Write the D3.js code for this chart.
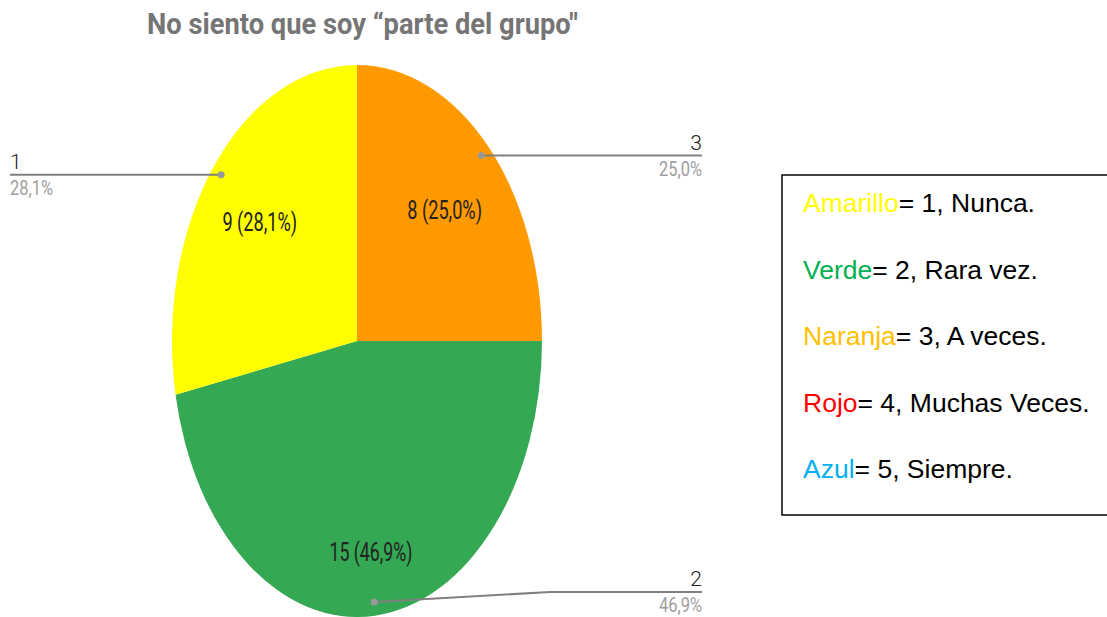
<!DOCTYPE html>
<html>
<head>
<meta charset="utf-8">
<script src="https://cdn.jsdelivr.net/npm/d3@7"></script>
<style>
  body { margin: 0; background: #fff; }
  svg { display: block; }
</style>
</head>
<body>
<div id="chart"></div>
<script>
// slices in drawing order (clockwise from 12 o'clock)
const categories = ["3", "2", "1"];
const counts = [8, 15, 9];
const sliceColors = ["#ff9900", "#34a853", "#ffff00"];

const title = "No siento que soy \u201cparte del grupo\"";

// legend box
const legendNames = ["Amarillo", "Verde", "Naranja", "Rojo", "Azul"];
const legendNameColors = ["#ffff00", "#00b050", "#ffc000", "#ff0000", "#00b0f0"];
const legendValues = [1, 2, 3, 4, 5];
const legendMeanings = ["Nunca.", "Rara vez.", "A veces.", "Muchas Veces.", "Siempre."];

const W = 1107, H = 617;
const cx = 357, cy = 341, rx = 185, ry = 276;

const svg = d3.select("#chart").append("svg")
    .attr("width", W)
    .attr("height", H);

const total = d3.sum(counts);
const fmtPct = v => d3.format(".1f")(v * 100).replace(".", ",") + "%";

// title
svg.append("text")
    .attr("x", 147)
    .attr("y", 34)
    .attr("font-family", "Roboto, sans-serif")
    .attr("font-weight", "bold")
    .attr("font-size", 30)
    .attr("fill", "#757575")
    .attr("textLength", 431)
    .attr("lengthAdjust", "spacingAndGlyphs")
    .text(title);

// pie (elliptical: drawn as a circle of radius ry, squeezed horizontally)
const pie = d3.pie().sort(null).value(d => d)(counts);
const arc = d3.arc().innerRadius(0).outerRadius(ry);

const pieG = svg.append("g")
    .attr("transform", `translate(${cx},${cy}) scale(${rx / ry},1)`);

pieG.selectAll("path")
    .data(pie)
    .enter()
    .append("path")
    .attr("d", arc)
    .attr("fill", (d, i) => sliceColors[i]);

// point on the ellipse at a fraction of the radius along the mid angle
function ellipsePoint(d, frac) {
    const a = (d.startAngle + d.endAngle) / 2;
    return [cx + Math.sin(a) * rx * frac, cy - Math.cos(a) * ry * frac];
}

// data labels inside slices
const innerFrac = [0.67, 0.77, 0.68];
pie.forEach((d, i) => {
    const [x, y] = ellipsePoint(d, innerFrac[i]);
    const txt = `${counts[i]} (${fmtPct(counts[i] / total)})`;
    svg.append("text")
        .attr("x", x)
        .attr("y", y + 9)
        .attr("text-anchor", "middle")
        .attr("font-family", "Roboto, sans-serif")
        .attr("font-size", 26)
        .attr("fill", "#222")
        .attr("textLength", txt.length * 8.3)
        .attr("lengthAdjust", "spacingAndGlyphs")
        .text(txt);
});

// leader lines with outside labels
const leftEnd = 10, rightEnd = 702, maxLabelY = 592;
pie.forEach((d, i) => {
    const [px, py] = ellipsePoint(d, 0.95);
    const mid = (d.startAngle + d.endAngle) / 2;
    const right = Math.sin(mid) >= 0;
    const endX = right ? rightEnd : leftEnd;
    const ly = Math.min(py, maxLabelY);
    const pts = [[px, py]];
    if (ly !== py) pts.push([cx + rx + 8, ly]);
    pts.push([endX, ly]);

    svg.append("path")
        .attr("d", d3.line()(pts))
        .attr("fill", "none")
        .attr("stroke", "#808080")
        .attr("stroke-width", 2);
    svg.append("circle")
        .attr("cx", px)
        .attr("cy", py)
        .attr("r", 3.5)
        .attr("fill", "#999");

    const anchor = right ? "end" : "start";
    svg.append("text")
        .attr("x", endX)
        .attr("y", ly - 6)
        .attr("text-anchor", anchor)
        .attr("font-family", "Roboto, sans-serif")
        .attr("font-weight", 300)
        .attr("font-size", 21)
        .attr("fill", "#222")
        .text(categories[i]);
    const pct = fmtPct(counts[i] / total);
    svg.append("text")
        .attr("x", endX)
        .attr("y", ly + 20)
        .attr("text-anchor", anchor)
        .attr("font-family", "Roboto, sans-serif")
        .attr("font-size", 20)
        .attr("fill", "#9e9e9e")
        .attr("textLength", 43)
        .attr("lengthAdjust", "spacingAndGlyphs")
        .text(pct);
});

// legend box
const legX = 782, legY = 175, legH = 340;
svg.append("rect")
    .attr("x", legX)
    .attr("y", legY)
    .attr("width", W - legX + 10)
    .attr("height", legH)
    .attr("fill", "#fff")
    .attr("stroke", "#000")
    .attr("stroke-width", 1.5);

const legScale = d3.scalePoint()
    .domain(legendNames)
    .range([legY + 37, legY + 303]);

legendNames.forEach((name, i) => {
    const t = svg.append("text")
        .attr("x", legX + 21)
        .attr("y", legScale(name))
        .attr("font-family", "'Liberation Sans', Arial, sans-serif")
        .attr("font-size", 26.5);
    t.append("tspan").attr("fill", legendNameColors[i]).text(name);
    t.append("tspan").attr("fill", "#000").text(`= ${legendValues[i]}, ${legendMeanings[i]}`);
});
</script>
</body>
</html>
